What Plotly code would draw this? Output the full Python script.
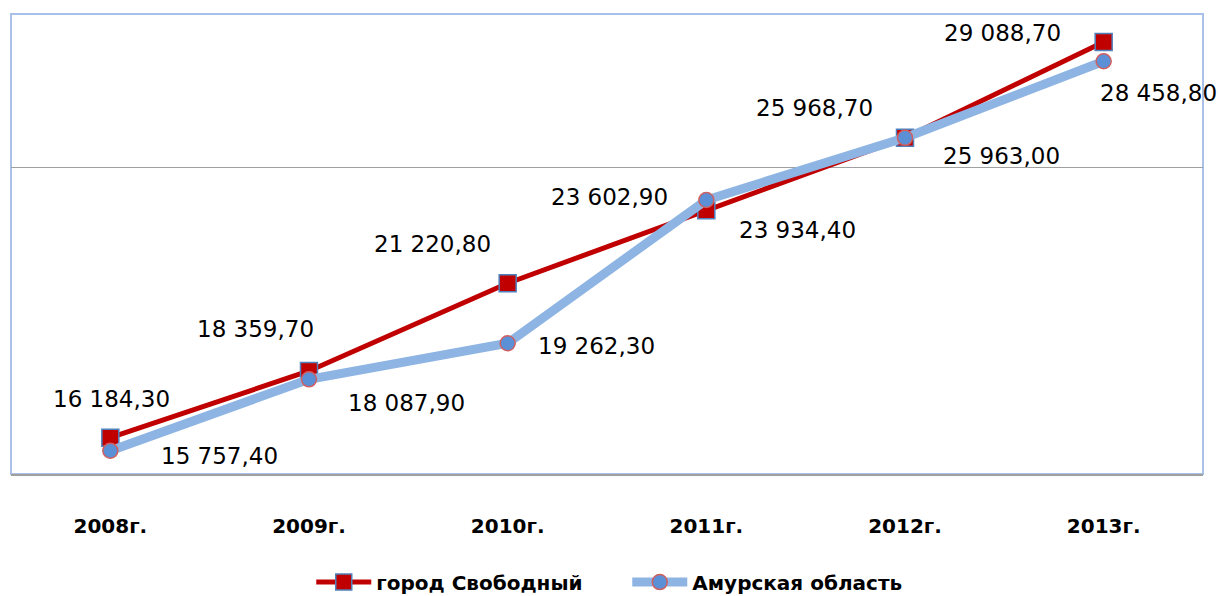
import plotly.graph_objects as go

years = ["2008г.", "2009г.", "2010г.", "2011г.", "2012г.", "2013г."]
svobodny = [16184.30, 18359.70, 21220.80, 23602.90, 25968.70, 29088.70]
amur = [15757.40, 18087.90, 19262.30, 23934.40, 25963.00, 28458.80]
name_svob = "город Свободный"
name_amur = "Амурская область"

# label offsets (style)
svob_dx = [1, -54, -75, -97, -91, -101]
svob_dy = [39, 42, 39, 13, 30, 9]
amur_dx = [109, 97, 89, 91, 96, 55]
amur_dy = [-5, -24, -3, -30, -18, -32]


def fmt(v):
    s = f"{v:,.2f}"
    return s.replace(",", " ").replace(".", ",")


fig = go.Figure()
fig.add_trace(go.Scatter(
    x=years, y=svobodny, name=name_svob, mode="lines+markers",
    line=dict(color="#C00000", width=5),
    marker=dict(symbol="square", size=17, color="#C00000",
                line=dict(color="#4F81BD", width=1.5)),
))
fig.add_trace(go.Scatter(
    x=years, y=amur, name=name_amur, mode="lines+markers",
    line=dict(color="#8DB4E2", width=9),
    marker=dict(symbol="circle", size=15, color="#5B8FD6",
                line=dict(color="#D06060", width=1.5)),
))

annots = []
for i, y in enumerate(years):
    annots.append(dict(x=y, y=svobodny[i], text=fmt(svobodny[i]), showarrow=False,
                       xshift=svob_dx[i], yshift=svob_dy[i],
                       font=dict(size=23, color="#000000", family="DejaVu Sans")))
    annots.append(dict(x=y, y=amur[i], text=fmt(amur[i]), showarrow=False,
                       xshift=amur_dx[i], yshift=amur_dy[i],
                       font=dict(size=23, color="#000000", family="DejaVu Sans")))

fig.update_layout(
    width=1218, height=596,
    margin=dict(l=11, r=15, t=14, b=122, autoexpand=False),
    paper_bgcolor="white", plot_bgcolor="white",
    showlegend=True,
    legend=dict(orientation="h", x=0.517, xanchor="center", y=-0.235, yanchor="middle",
                font=dict(size=20, color="#000000", family="DejaVu Sans", weight="bold"),
                itemwidth=55, entrywidth=246, tracegroupgap=0),
    annotations=annots,
    shapes=[dict(type="rect", xref="paper", yref="paper", x0=0, x1=1, y0=0, y1=1,
                 line=dict(color="#A9C0E8", width=2), layer="below")],
    xaxis=dict(type="category", range=[-0.5, 5.5], showgrid=False,
               showline=True, linecolor="#A0A0A0", linewidth=2,
               ticks="outside", ticklen=33, tickcolor="rgba(0,0,0,0)",
               tickfont=dict(size=20, color="#000000", family="DejaVu Sans", weight="bold")),
    yaxis=dict(range=[15000, 30000], dtick=10000, tick0=15000, showticklabels=False,
               showgrid=True, gridcolor="#A0A0A0", gridwidth=1, zeroline=False,
               showline=False),
)

fig.write_html("out.html", config={"displayModeBar": False},
               post_script="document.body.style.margin='0';document.body.style.overflow='hidden';")
